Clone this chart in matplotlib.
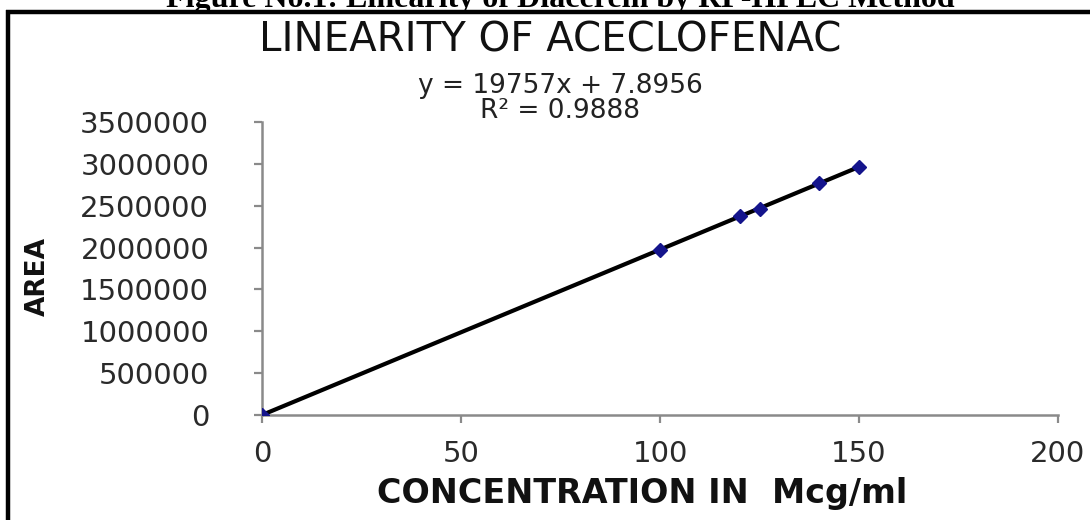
import matplotlib
matplotlib.use("Agg")
import matplotlib.pyplot as plt
from matplotlib.lines import Line2D

# Calibration data
concentration = [0, 100, 120, 125, 140, 150]          # Mcg/ml
peak_area = [0, 1975000, 2380000, 2465000, 2770000, 2965000]

# Linear fit reported on the chart
slope = 19757
intercept = 7.8956
r_squared = 0.9888

x_ticks = [0, 50, 100, 150, 200]
y_ticks = [0, 500000, 1000000, 1500000, 2000000, 2500000, 3000000, 3500000]

W, H = 1090, 520
fig = plt.figure(figsize=(W / 100, H / 100), dpi=100)
fig.patch.set_facecolor("white")

ax = fig.add_axes([262 / W, 105 / H, (1058 - 262) / W, (415 - 122) / H])
ax.set_xlim(0, 200)
ax.set_ylim(0, 3500000)

# Trendline over the measured range
fit_x = [min(concentration), max(concentration)]
fit_y = [slope * v + intercept for v in fit_x]
ax.plot(fit_x, fit_y, color="black", lw=3.0, solid_capstyle="round", zorder=2)
ax.plot(concentration, peak_area, linestyle="none", marker="D",
        markersize=7, color="#14148c", zorder=3)

axis_grey = "#8a8a8a"
for side in ("top", "right"):
    ax.spines[side].set_visible(False)
for side in ("left", "bottom"):
    ax.spines[side].set_color(axis_grey)
    ax.spines[side].set_linewidth(1.8)

ax.set_xticks(x_ticks)
ax.set_yticks(y_ticks)
ax.set_xticklabels([str(v) for v in x_ticks])
ax.set_yticklabels([str(v) for v in y_ticks])
ax.tick_params(axis="both", direction="out", length=6, width=1.6,
               color=axis_grey, labelsize=21, labelcolor="#2a2a2a")
ax.tick_params(axis="y", pad=32)
ax.tick_params(axis="x", pad=12)
for lab in ax.get_xticklabels() + ax.get_yticklabels():
    lab.set_family("DejaVu Sans")

ax.set_xlabel("CONCENTRATION IN  Mcg/ml", fontsize=24, fontweight="bold",
              family="DejaVu Sans", color="#111111")
ax.xaxis.set_label_coords((642 - 262) / (1058 - 262), -(493 - 415) / (415 - 122))
ax.xaxis.label.set_va("center")
ax.set_ylabel("AREA", fontsize=19, fontweight="bold",
              family="DejaVu Sans", color="#111111")
ax.yaxis.set_label_coords(-(262 - 38) / (1058 - 262), (415 - 276) / (415 - 122))
ax.yaxis.label.set_va("center")

# Titles and equation
fig.text(550 / W, 1 - 40 / H, "LINEARITY OF ACECLOFENAC", ha="center",
         va="center", fontsize=29, family="DejaVu Sans", color="#111111")
fig.text(560 / W, 1 - 86 / H, f"y = {slope}x + {intercept}", ha="center",
         va="center", fontsize=19, family="DejaVu Sans", color="#222222")
fig.text(560 / W, 1 - 111 / H, f"R² = {r_squared}", ha="center",
         va="center", fontsize=19, family="DejaVu Sans", color="#222222")

# Figure caption above the frame
fig.text(560 / W, 1 - 7 / H, "Figure No.1: Linearity of Diacerein by RP-HPLC Method",
         ha="center", va="baseline", fontsize=23, fontweight="bold",
         family="Liberation Serif", color="black")

# Frame
fig.add_artist(Line2D([6 / W, 1.0], [1 - 11.5 / H, 1 - 11.5 / H],
                      transform=fig.transFigure, color="black", lw=3.2,
                      solid_capstyle="butt"))
fig.add_artist(Line2D([8 / W, 8 / W], [0.0, 1 - 10 / H],
                      transform=fig.transFigure, color="black", lw=3.2,
                      solid_capstyle="butt"))

fig.savefig("out.png", dpi=100)
